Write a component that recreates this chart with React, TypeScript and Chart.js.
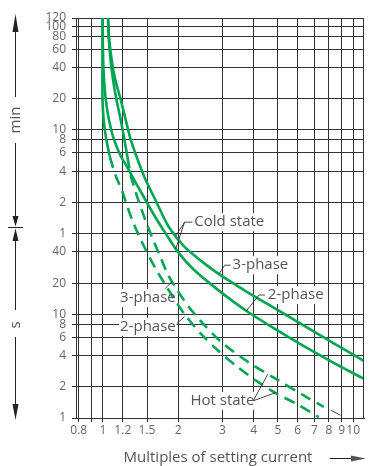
import React, { useEffect, useRef } from 'react';
import { Chart, registerables } from 'chart.js';

Chart.register(...registerables);

// ---- axes ----
const xTicks = [0.8, 0.9, 1, 1.2, 1.5, 2, 3, 4, 5, 6, 7, 8, 9, 10];
const xTickLabels = ['0.8', '', '1', '1.2', '1.5', '2', '3', '4', '5', '6', '7', '8', '9', '10'];
// time in seconds; labels switch from seconds to minutes at 60 s
const yTicks = [1, 2, 4, 6, 8, 10, 20, 40, 60, 120, 240, 360, 480, 600, 1200, 2400, 3600, 4800, 6000, 7200];
const yTickLabels = ['1', '2', '4', '6', '8', '10', '20', '40', '1', '2', '4', '6', '8', '10', '20', '40', '60', '80', '100', '120'];

// ---- curves (x = multiple of setting current, t = trip time in seconds) ----
const coldThreeX = [1.047, 1.059, 1.082, 1.117, 1.173, 1.227, 1.284, 1.356, 1.464, 1.631, 1.834, 2.1, 2.447, 2.88, 3.774, 4.947, 6.484, 8.502, 11.14];
const coldThreeT = [7200, 4484, 2899, 1874, 1211, 783, 506, 342, 211, 122.5, 69.4, 45.7, 33.3, 24.8, 16.4, 11.15, 7.57, 5.13, 3.51];

const coldTwoX = [0.9965, 0.9977, 1.0015, 1.0092, 1.0246, 1.053, 1.1005, 1.173, 1.25, 1.325, 1.4375, 1.602, 1.785, 2.007, 2.298, 2.88, 3.774, 4.947, 6.484, 8.502, 11.14];
const coldTwoT = [7200, 4484, 2899, 1874, 1211, 783, 506, 342, 263, 202, 143, 90.2, 59.6, 39.1, 27.15, 17.2, 10.65, 7.07, 4.79, 3.33, 2.36];

const hotThreeX = [1.047, 1.055, 1.071, 1.095, 1.129, 1.173, 1.214, 1.253, 1.29, 1.337, 1.399, 1.477, 1.574, 1.691, 1.801, 1.953, 2.196, 2.515, 3.012, 3.842, 4.947, 6.368, 7.628];
const hotThreeT = [7200, 4484, 2899, 1874, 1211, 783, 506, 327, 221, 163, 117, 80.9, 54.6, 36.5, 25.3, 18.0, 11.9, 8.1, 5.25, 3.41, 2.36, 1.64, 1.28];

const hotTwoX = [0.9965, 0.9953, 0.9953, 1.0046, 1.0277, 1.0659, 1.1206, 1.191, 1.25, 1.319, 1.405, 1.51, 1.639, 1.785, 1.953, 2.138, 2.47, 2.88, 3.448, 4.13, 4.947, 6.034, 7.292];
const hotTwoT = [7200, 2899, 1211, 783, 506, 327, 221, 156, 110, 77.4, 54.6, 38.2, 26.5, 18.85, 13.38, 9.72, 6.45, 4.48, 3.11, 2.26, 1.72, 1.34, 1.02];

const HOT_DASH_FROM = 327; // hot-state curves drawn dashed below this time (s)

// ---- annotations (data coordinates) ----
const textLabels: { text: string; x: number; t: number; align: CanvasTextAlign }[] = [
  { text: 'Cold state', x: 2.318, t: 77.4, align: 'left' },
  { text: '3-phase', x: 3.296, t: 29.74, align: 'left' },
  { text: '2-phase', x: 4.561, t: 15.35, align: 'left' },
  { text: '3-phase', x: 1.9534, t: 14.33, align: 'right' },
  { text: '2-phase', x: 1.9534, t: 7.565, align: 'right' },
  { text: 'Hot state', x: 2.236, t: 1.464, align: 'left' },
];
const leaderLines: number[][][] = [
  [[2.277, 77.4], [2.119, 77.4], [1.9534, 57.0]],
  [[2.119, 77.4], [1.9534, 42.75]],
  [[3.237, 29.74], [3.067, 29.74], [2.906, 24.44]],
  [[4.44, 15.35], [4.206, 15.35], [3.74, 10.77]],
  [[1.769, 17.6], [1.884, 20.64]],
  [[1.971, 8.1], [2.119, 9.506]],
  [[3.985, 1.464], [4.561, 2.649]],
  [[3.985, 1.464], [4.902, 1.757]],
  [[8.126, 1.192], [8.893, 1.064]],
];

const GREEN = '#00a651';
const TEXT = '#555';
const FONT = '15px "Open Sans"';

function pts(xs: number[], ts: number[]) {
  return xs.map((x, i) => ({ x, y: ts[i] }));
}

export default function App() {
  const ref = useRef<HTMLCanvasElement>(null);

  useEffect(() => {
    const canvas = ref.current!;

    const deco = {
      id: 'deco',
      beforeDatasetsDraw(chart: any) {
        const { ctx, scales } = chart;
        ctx.save();
        ctx.font = FONT;
        ctx.fillStyle = '#fff';
        for (const l of textLabels) {
          const px = scales.x.getPixelForValue(l.x);
          const py = scales.y.getPixelForValue(l.t);
          const w = ctx.measureText(l.text).width;
          const left = l.align === 'right' ? px - w : px;
          ctx.fillRect(left - 1, py - 9, w + 2, 18);
        }
        ctx.restore();
      },
      afterDatasetsDraw(chart: any) {
        const { ctx, scales, chartArea } = chart;
        ctx.save();
        // right frame
        ctx.strokeStyle = '#333';
        ctx.lineWidth = 1;
        ctx.beginPath();
        ctx.moveTo(Math.round(chartArea.right) - 0.5, chartArea.top);
        ctx.lineTo(Math.round(chartArea.right) - 0.5, chartArea.bottom);
        ctx.stroke();
        // leaders
        ctx.strokeStyle = '#333';
        ctx.lineWidth = 0.9;
        for (const ln of leaderLines) {
          ctx.beginPath();
          ln.forEach((p, i) => {
            const px = scales.x.getPixelForValue(p[0]);
            const py = scales.y.getPixelForValue(p[1]);
            if (i === 0) ctx.moveTo(px, py);
            else ctx.lineTo(px, py);
          });
          ctx.stroke();
        }
        // labels
        ctx.font = FONT;
        ctx.fillStyle = TEXT;
        ctx.textBaseline = 'middle';
        for (const l of textLabels) {
          ctx.textAlign = l.align;
          ctx.fillText(l.text, scales.x.getPixelForValue(l.x), scales.y.getPixelForValue(l.t));
        }
        ctx.restore();
      },
      afterDraw(chart: any) {
        const ctx = chart.ctx;
        ctx.save();
        ctx.strokeStyle = '#222';
        ctx.fillStyle = '#222';
        ctx.lineWidth = 1;
        const line = (x1: number, y1: number, x2: number, y2: number) => {
          ctx.beginPath();
          ctx.moveTo(x1, y1);
          ctx.lineTo(x2, y2);
          ctx.stroke();
        };
        const tri = (a: number[], b: number[], c: number[]) => {
          ctx.beginPath();
          ctx.moveTo(a[0], a[1]);
          ctx.lineTo(b[0], b[1]);
          ctx.lineTo(c[0], c[1]);
          ctx.closePath();
          ctx.fill();
        };
        const rotText = (s: string, x: number, y: number) => {
          ctx.save();
          ctx.translate(x, y);
          ctx.rotate(-Math.PI / 2);
          ctx.fillStyle = TEXT;
          ctx.font = FONT;
          ctx.textAlign = 'center';
          ctx.textBaseline = 'middle';
          ctx.fillText(s, 0, 0);
          ctx.restore();
        };
        const ax = 15.5;
        line(ax, 30, ax, 97);
        tri([ax, 14], [ax - 3, 32], [ax + 3, 32]);
        rotText('min', ax + 0.5, 120);
        line(ax, 143, ax, 217);
        tri([ax - 3, 216], [ax + 3, 216], [ax, 226.5]);
        line(8, 227.5, 23, 227.5);
        tri([ax, 228.5], [ax - 3, 241], [ax + 3, 241]);
        line(ax, 240, ax, 310);
        rotText('s', ax + 0.5, 325);
        line(ax, 337, ax, 406);
        tri([ax - 3, 404], [ax + 3, 404], [ax, 420]);

        ctx.font = FONT;
        ctx.fillStyle = TEXT;
        ctx.textAlign = 'center';
        ctx.textBaseline = 'alphabetic';
        ctx.fillText('Multiples of setting current', 218, 462);
        ctx.strokeStyle = '#222';
        line(330, 458.5, 352, 458.5);
        tri([351, 455.5], [351, 461.5], [366, 458.5]);
        ctx.restore();
      },
    };

    const solid = (xs: number[], ts: number[]) => pts(xs, ts).filter((p) => p.y >= HOT_DASH_FROM);
    const dashed = (xs: number[], ts: number[]) => pts(xs, ts).filter((p) => p.y <= HOT_DASH_FROM);

    const base = {
      showLine: true,
      borderColor: GREEN,
      backgroundColor: GREEN,
      borderWidth: 2.6,
      pointRadius: 0,
      tension: 0.3,
      fill: false,
    };

    const chart = new Chart(canvas, {
      type: 'scatter',
      data: {
        datasets: [
          { ...base, label: 'Cold state 3-phase', data: pts(coldThreeX, coldThreeT) },
          { ...base, label: 'Cold state 2-phase', data: pts(coldTwoX, coldTwoT) },
          { ...base, label: 'Hot state 3-phase', data: solid(hotThreeX, hotThreeT) },
          { ...base, label: 'Hot state 3-phase', data: dashed(hotThreeX, hotThreeT), borderDash: [11, 7] },
          { ...base, label: 'Hot state 2-phase', data: solid(hotTwoX, hotTwoT) },
          { ...base, label: 'Hot state 2-phase', data: dashed(hotTwoX, hotTwoT), borderDash: [11, 7] },
        ] as any,
      },
      options: {
        animation: false,
        responsive: false,
        devicePixelRatio: 1,
        events: [],
        layout: { padding: { top: 18, right: 5, bottom: 0, left: 0 } },
        plugins: { legend: { display: false }, tooltip: { enabled: false } },
        scales: {
          x: {
            type: 'logarithmic',
            min: 0.78,
            max: 11.05,
            bounds: 'data',
            afterBuildTicks: (s: any) => {
              s.ticks = xTicks.map((v) => ({ value: v }));
            },
            afterFit: (s: any) => {
              s.height = 48;
            },
            grid: { color: '#333', lineWidth: 1, drawTicks: true, tickLength: 4, tickColor: '#333' },
            border: { display: true, color: '#333' },
            ticks: {
              autoSkip: false,
              maxRotation: 0,
              minRotation: 0,
              padding: 1,
              color: '#666',
              font: { size: 12, family: 'Open Sans' },
              callback: (_v: any, i: number) => xTickLabels[i],
            },
          },
          y: {
            type: 'logarithmic',
            min: 1,
            max: 7200,
            bounds: 'data',
            afterBuildTicks: (s: any) => {
              s.ticks = yTicks.map((v) => ({ value: v }));
            },
            afterFit: (s: any) => {
              s.width = 76;
            },
            grid: { color: '#333', lineWidth: 1, drawTicks: true, tickLength: 4, tickColor: '#333' },
            border: { display: true, color: '#333' },
            ticks: {
              autoSkip: false,
              padding: 6,
              color: '#666',
              font: { size: 12, family: 'Open Sans' },
              callback: (_v: any, i: number) => yTickLabels[i],
            },
          },
        },
      } as any,
      plugins: [deco],
    });

    return () => chart.destroy();
  }, []);

  return (
    <div style={{ position: 'fixed', left: 0, top: 0, width: 369, height: 466, background: '#fff' }}>
      <canvas ref={ref} width={369} height={466} style={{ display: 'block' }} />
    </div>
  );
}
